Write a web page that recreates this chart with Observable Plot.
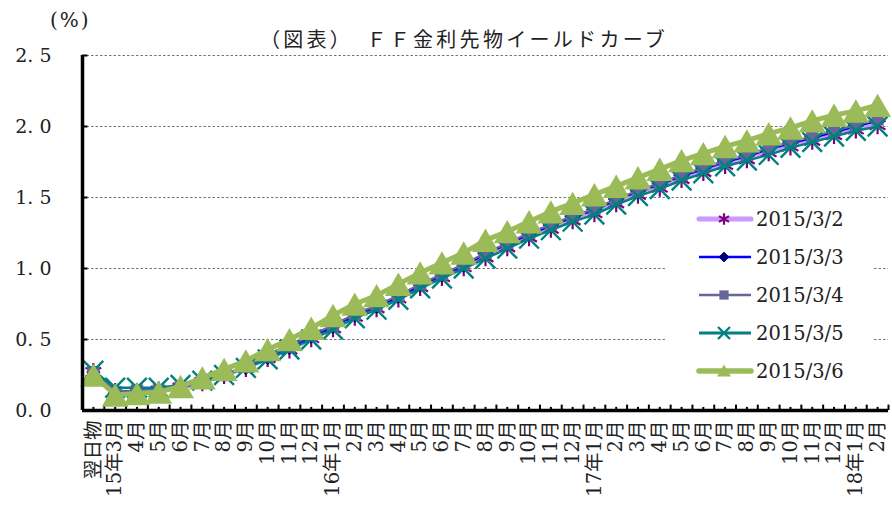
<!DOCTYPE html>
<html><head><meta charset="utf-8">
<script src="https://cdn.jsdelivr.net/npm/d3@7"></script>
<script src="https://cdn.jsdelivr.net/npm/@observablehq/plot@0.6"></script>
<style>
body{margin:0;background:#fff;}
#wrap{position:relative;width:892px;height:509px;overflow:hidden;font-family:"DejaVu Serif","Noto Sans CJK JP",serif;color:#222;}
#title{position:absolute;left:0;width:928px;top:24px;text-align:center;font-size:20px;letter-spacing:3.3px;font-family:"Noto Sans CJK JP",sans-serif;white-space:pre;color:#222;}
#unit{position:absolute;left:50px;top:8px;font-size:20px;letter-spacing:2px;font-family:"DejaVu Serif","Noto Sans CJK JP",serif;color:#222;}
#legend{position:absolute;left:665px;top:200px;}
</style></head><body><div id="wrap"><div id="unit">(%)</div><div id="title">（図表）　ＦＦ金利先物イールドカーブ</div></div>
<script>
const categories = ["翌日物","15年3月","4月","5月","6月","7月","8月","9月","10月","11月","12月",
  "16年1月","2月","3月","4月","5月","6月","7月","8月","9月","10月","11月","12月",
  "17年1月","2月","3月","4月","5月","6月","7月","8月","9月","10月","11月","12月",
  "18年1月","2月"];
const seriesNames = ["2015/3/2","2015/3/3","2015/3/4","2015/3/5","2015/3/6"];
const s20150302 = [0.27,0.13,0.13,0.14,0.16,0.20,0.25,0.30,0.37,0.43,0.51,0.58,0.66,0.72,0.79,0.87,0.94,1.01,1.08,1.15,1.22,1.28,1.34,1.39,1.46,1.52,1.57,1.63,1.68,1.73,1.77,1.82,1.86,1.90,1.94,1.98,2.01];
const s20150303 = [0.27,0.13,0.14,0.14,0.16,0.20,0.25,0.30,0.37,0.44,0.52,0.59,0.67,0.73,0.80,0.88,0.95,1.02,1.10,1.17,1.24,1.30,1.36,1.41,1.48,1.54,1.59,1.65,1.70,1.75,1.79,1.84,1.88,1.92,1.96,2.00,2.04];
const s20150304 = [0.27,0.13,0.14,0.14,0.16,0.20,0.25,0.31,0.38,0.45,0.53,0.60,0.68,0.74,0.81,0.89,0.96,1.03,1.11,1.18,1.25,1.31,1.37,1.42,1.49,1.55,1.60,1.66,1.71,1.76,1.80,1.85,1.89,1.93,1.97,2.01,2.05];
const s20150305 = [0.28,0.16,0.16,0.16,0.18,0.21,0.25,0.30,0.36,0.43,0.50,0.57,0.65,0.71,0.78,0.86,0.93,1.00,1.07,1.14,1.21,1.27,1.33,1.38,1.45,1.51,1.56,1.62,1.67,1.72,1.76,1.80,1.85,1.89,1.93,1.97,2.00];
const s20150306 = [0.25,0.11,0.12,0.13,0.17,0.23,0.29,0.35,0.43,0.50,0.58,0.67,0.75,0.81,0.89,0.97,1.04,1.11,1.20,1.26,1.33,1.40,1.46,1.52,1.58,1.64,1.70,1.76,1.81,1.86,1.90,1.95,1.99,2.04,2.08,2.11,2.15];
const yTicks = [0, 0.5, 1.0, 1.5, 2.0, 2.5];
const gridValues = [0.5, 1.0, 1.5, 2.0, 2.5];

const styles = [
  {line:"#CC99FF", lw:4.5, symbol:"asterisk", r:8.6, fill:"none", stroke:"#800080", sw:2.2, lr:5.5},
  {line:"#0000FF", lw:2.2, symbol:"diamond2", r:6, fill:"#000080", stroke:"#000080", sw:1, lr:4.4},
  {line:"#666699", lw:2.2, symbol:"square", r:7, fill:"#666699", stroke:"none", sw:0, lr:5.2},
  {line:"#008080", lw:2.4, symbol:"times", r:9, fill:"none", stroke:"#008080", sw:2.4, lr:5.5},
  {line:"#9BBB59", lw:5, symbol:"triangle", r:10, fill:"#9BBB59", stroke:"none", sw:0, lr:5.2, dy:4}
];
const allValues = [s20150302, s20150303, s20150304, s20150305, s20150306];
const series = seriesNames.map((name, k) => ({name, rows: allValues[k].map((v, i) => ({i, v})), st: styles[k]}));

const dataMarks = series.flatMap(s => [
  Plot.line(s.rows, {x:"i", y:"v", stroke:s.st.line, strokeWidth:s.st.lw, strokeLinejoin:"round", strokeLinecap:"round"}),
  Plot.dot(s.rows, {x:"i", y:"v", symbol:s.st.symbol, r:s.st.r, fill:s.st.fill, stroke:s.st.stroke, strokeWidth:s.st.sw, dy:s.st.dy || 0})
]);

const idx = d3.range(categories.length);
const boundaries = d3.range(categories.length + 1).map(i => i - 0.5);

const chart = Plot.plot({
  width: 892, height: 509,
  marginTop: 55, marginLeft: 82, marginRight: 4, marginBottom: 99,
  style: {fontFamily: "DejaVu Serif, Noto Sans CJK JP, serif", color: "#222", background: "transparent", overflow: "visible"},
  x: {type: "linear", domain: [-0.5, categories.length - 0.5], axis: null},
  y: {domain: [0, 2.5], axis: null},
  marks: [
    Plot.ruleY(gridValues, {stroke: "#666", strokeWidth: 0.9, strokeDasharray: "2.5,2"}),
    Plot.ruleX(boundaries, {y1: 0, y2: 0.038, stroke: "#000", strokeWidth: 2}),
    Plot.ruleX(idx, {y1: 0, y2: 0.022, stroke: "#000", strokeWidth: 2}),
    Plot.ruleY(yTicks, {x1: -0.5, x2: -0.25, stroke: "#000", strokeWidth: 2}),
    ...dataMarks,
    Plot.ruleX([-0.5], {y1: 0, y2: 2.5, stroke: "#000", strokeWidth: 3.5}),
    Plot.ruleY([0], {stroke: "#000", strokeWidth: 3.5}),
    Plot.axisX(idx, {label: null, tickFormat: i => categories[i], tickRotate: -90, tickSize: 0, tickPadding: 10, fontSize: 19.5, fill: "#222"}),
    Plot.axisY(yTicks, {label: null, tickFormat: d => d.toFixed(1).replace(".", ". "), tickSize: 0, tickPadding: 31, fontSize: 19, fill: "#222"})
  ]
});
const wrap = document.getElementById("wrap");
wrap.insertBefore(chart, wrap.firstChild);

// legend
const symbolTypes = {asterisk: d3.symbolAsterisk, diamond2: d3.symbolDiamond2, square: d3.symbolSquare, times: d3.symbolTimes, triangle: d3.symbolTriangle};
const lg = d3.select("#wrap").append("svg").attr("id", "legend").attr("width", 208).attr("height", 190);
lg.append("rect").attr("width", 208).attr("height", 190).attr("fill", "#fff");
series.forEach((s, k) => {
  const cy = 19 + k * 38;
  const g = lg.append("g").attr("transform", `translate(0,${cy})`);
  g.append("line").attr("x1", 34).attr("x2", 86).attr("y1", 0).attr("y2", 0)
    .attr("stroke", s.st.line).attr("stroke-width", s.st.lw + 0.5).attr("stroke-linecap", (k === 0 || k === 4) ? "round" : "butt");
  g.append("path").attr("transform", `translate(59,${s.st.dy ? 1.5 : 0})`)
    .attr("d", d3.symbol(symbolTypes[s.st.symbol], Math.PI * s.st.lr * s.st.lr)())
    .attr("fill", s.st.fill).attr("stroke", s.st.stroke).attr("stroke-width", s.st.sw);
  g.append("text").attr("x", 91).attr("y", 0).attr("dy", "0.36em")
    .attr("font-size", 19.5).attr("fill", "#222").attr("font-family", "DejaVu Serif, serif").text(s.name);
});
</script></body></html>
